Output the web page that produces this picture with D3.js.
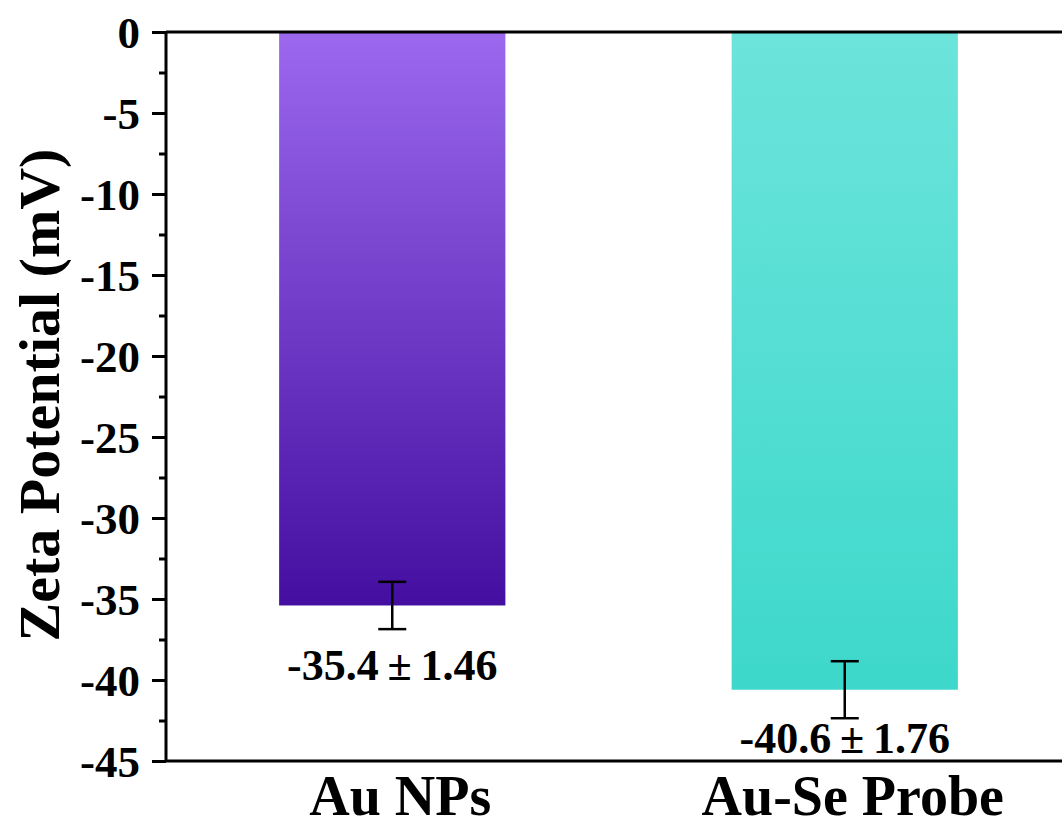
<!DOCTYPE html>
<html>
<head>
<meta charset="utf-8">
<script src="https://cdn.jsdelivr.net/npm/d3@7"></script>
<style>
  body { margin: 0; background: #fff; }
  svg text { font-family: "Liberation Serif", "Times New Roman", serif; font-weight: bold; fill: #000; }
</style>
</head>
<body>
<div id="chart-area"></div>
<script>
// data
var categories = ["Au NPs", "Au-Se Probe"];
var means = [-35.4, -40.6];
var errors = [1.46, 1.76];
var valueLabels = ["-35.4\u2009\u00b1\u20091.46", "-40.6\u2009\u00b1\u20091.76"];
var labelAt = [-40.0, -44.5]; // where the value text sits, in mV
var yTicks = [0, -5, -10, -15, -20, -25, -30, -35, -40, -45];
var yMinorTicks = [-2.5, -7.5, -12.5, -17.5, -22.5, -27.5, -32.5, -37.5, -42.5];
var topColors = ["#9b68ee", "#6ce4db"];
var bottomColors = ["#440ea0", "#3dd8cb"];

var width = 1062, height = 823;
var margin = { left: 166, top: 32, bottom: 62 };
var plotBottom = height - margin.bottom;

var svg = d3.select("#chart-area")
  .append("svg")
    .attr("width", width)
    .attr("height", height);

var y = d3.scaleLinear()
  .domain([0, -45])
  .range([margin.top, plotBottom]);

var x = d3.scaleBand()
  .domain(categories)
  .range([margin.left, margin.left + 905])
  .paddingInner(0.5)
  .paddingOuter(0.25);

// gradients for bars
var defs = svg.append("defs");
categories.forEach(function(c, i){
  var grad = defs.append("linearGradient")
    .attr("id", "grad" + i)
    .attr("x1", 0).attr("y1", 0)
    .attr("x2", 0).attr("y2", 1);
  grad.append("stop").attr("offset", "0%").attr("stop-color", topColors[i]);
  grad.append("stop").attr("offset", "100%").attr("stop-color", bottomColors[i]);
});

// bars
svg.selectAll("rect.bar")
  .data(categories)
  .enter().append("rect")
    .attr("class", "bar")
    .attr("x", function(d){ return x(d); })
    .attr("y", y(0))
    .attr("width", x.bandwidth())
    .attr("height", function(d, i){ return y(means[i]) - y(0); })
    .attr("fill", function(d, i){ return "url(#grad" + i + ")"; });

// error bars
var capW = 28;
var cx = function(d){ return x(d) + x.bandwidth()/2; };
var eb = svg.selectAll("g.err")
  .data(categories)
  .enter().append("g")
    .attr("class", "err")
    .attr("stroke", "#000")
    .attr("stroke-width", 2.5);
eb.append("line")
  .attr("x1", cx)
  .attr("x2", cx)
  .attr("y1", function(d, i){ return y(means[i] + errors[i]); })
  .attr("y2", function(d, i){ return y(means[i] - errors[i]); });
eb.append("line")
  .attr("x1", function(d){ return cx(d) - capW/2; })
  .attr("x2", function(d){ return cx(d) + capW/2; })
  .attr("y1", function(d, i){ return y(means[i] + errors[i]); })
  .attr("y2", function(d, i){ return y(means[i] + errors[i]); });
eb.append("line")
  .attr("x1", function(d){ return cx(d) - capW/2; })
  .attr("x2", function(d){ return cx(d) + capW/2; })
  .attr("y1", function(d, i){ return y(means[i] - errors[i]); })
  .attr("y2", function(d, i){ return y(means[i] - errors[i]); });

// value labels
svg.selectAll("text.val")
  .data(categories)
  .enter().append("text")
    .attr("class", "val")
    .attr("x", cx)
    .attr("y", function(d, i){ return y(labelAt[i]); })
    .attr("text-anchor", "middle")
    .attr("font-size", "44px")
    .text(function(d, i){ return valueLabels[i]; });

// y axis
var yAxisCall = d3.axisLeft(y)
  .tickValues(yTicks)
  .tickSize(14)
  .tickPadding(12)
  .tickFormat(function(d){ return String(d); });
var yAxisGroup = svg.append("g")
  .attr("class", "y-axis")
  .attr("transform", "translate(" + margin.left + ",0)")
  .call(yAxisCall);
yAxisGroup.select(".domain").remove();
yAxisGroup.selectAll("line").attr("stroke", "#000").attr("stroke-width", 3);
yAxisGroup.selectAll("text")
  .attr("font-size", "45px")
  .attr("font-family", null)
  .attr("dy", "0.34em");

var minorGroup = svg.append("g")
  .attr("transform", "translate(" + margin.left + ",0)")
  .call(d3.axisLeft(y).tickValues(yMinorTicks).tickSize(7).tickFormat(""));
minorGroup.select(".domain").remove();
minorGroup.selectAll("line").attr("stroke", "#000").attr("stroke-width", 3);

// axis frame lines
svg.append("line")
  .attr("x1", margin.left).attr("x2", margin.left)
  .attr("y1", y(0)).attr("y2", y(-45))
  .attr("stroke", "#000").attr("stroke-width", 3);
svg.append("line")
  .attr("x1", margin.left).attr("x2", width)
  .attr("y1", y(0)).attr("y2", y(0))
  .attr("stroke", "#000").attr("stroke-width", 3);
svg.append("line")
  .attr("x1", margin.left).attr("x2", width)
  .attr("y1", y(-45)).attr("y2", y(-45))
  .attr("stroke", "#000").attr("stroke-width", 3);

// x axis labels
var xAxisGroup = svg.append("g")
  .attr("class", "x-axis")
  .attr("transform", "translate(0," + y(-45) + ")")
  .call(d3.axisBottom(x).tickSize(0).tickPadding(0));
xAxisGroup.select(".domain").remove();
xAxisGroup.selectAll("text")
  .attr("font-size", "56px")
  .attr("font-family", null)
  .attr("dy", null)
  .attr("y", 54)
  .attr("dx", 8);

// y label
svg.append("text")
  .attr("transform", "translate(39,395) rotate(-90)")
  .attr("text-anchor", "middle")
  .attr("dy", "0.35em")
  .attr("font-size", "58px")
  .text("Zeta Potential (mV)");
</script>
</body>
</html>
